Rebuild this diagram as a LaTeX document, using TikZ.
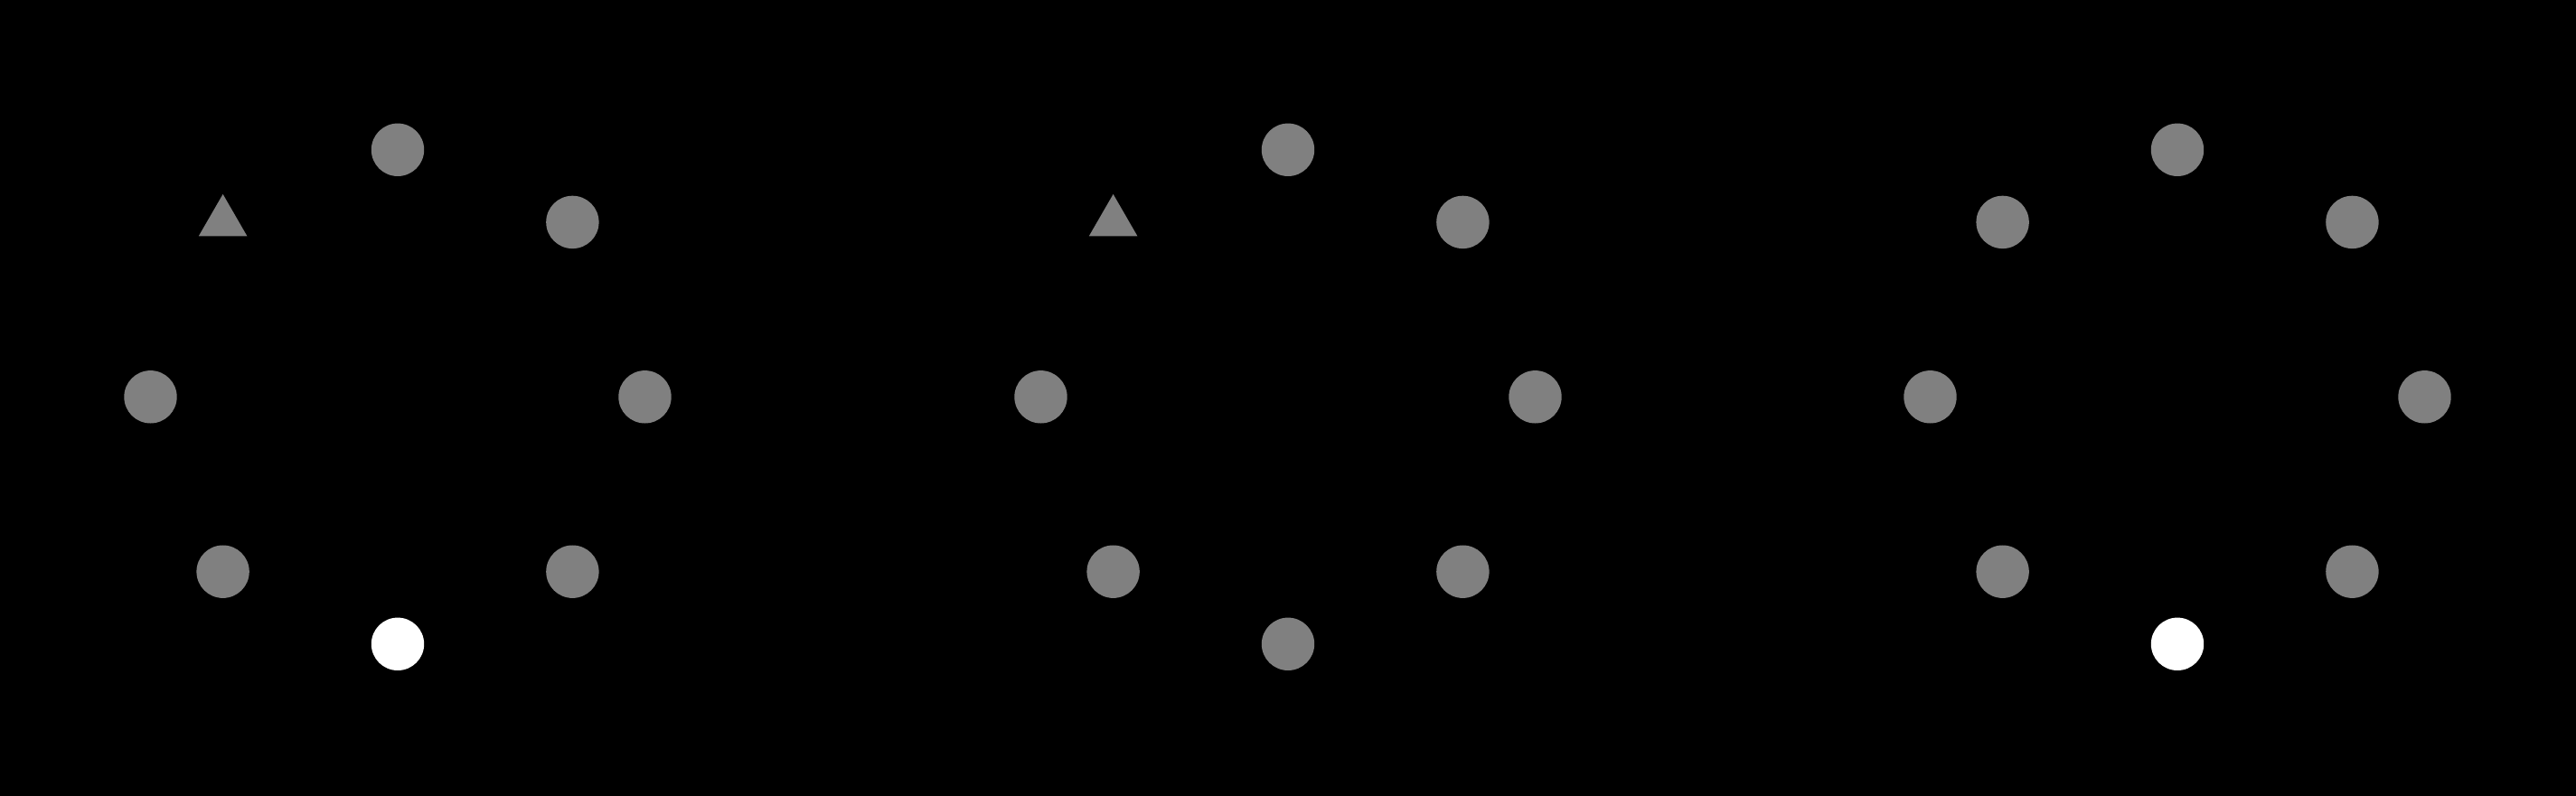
\documentclass[tikz,border=0pt]{standalone}
\usetikzlibrary{shapes.geometric}
\definecolor{dotgray}{RGB}{128,128,128}
\begin{document}
\begin{tikzpicture}[
  dot/.style={circle,fill=dotgray,draw=none,inner sep=0pt,minimum size=0.584cm},
  whitedot/.style={dot,fill=white},
  tri/.style={regular polygon,regular polygon sides=3,fill=dotgray,draw=none,inner sep=0pt,minimum size=0.62cm}]
\useasboundingbox (0,0) rectangle (28.5,8.8);
\fill[black] (-0.2,-0.2) rectangle (28.7,9.0);
\foreach \g/\cx in {A/4.40,B/14.25,C/24.09}{
  \coordinate (\g c) at (\cx,4.407);
  \foreach \a/\n in {90/1,45/2,0/3,-45/4,-135/6,180/7}
    \node[dot] (\g\n) at ([shift={(\a:2.735)}]\g c) {};
}
\node[tri] (A8) at ([shift={(135:2.735)}]Ac) {};
\node[whitedot] (A5) at ([shift={(-90:2.735)}]Ac) {};
\node[tri] (B8) at ([shift={(135:2.735)}]Bc) {};
\node[dot] (B5) at ([shift={(-90:2.735)}]Bc) {};
\node[dot] (C8) at ([shift={(135:2.735)}]Cc) {};
\node[whitedot] (C5) at ([shift={(-90:2.735)}]Cc) {};
\end{tikzpicture}
\end{document}
